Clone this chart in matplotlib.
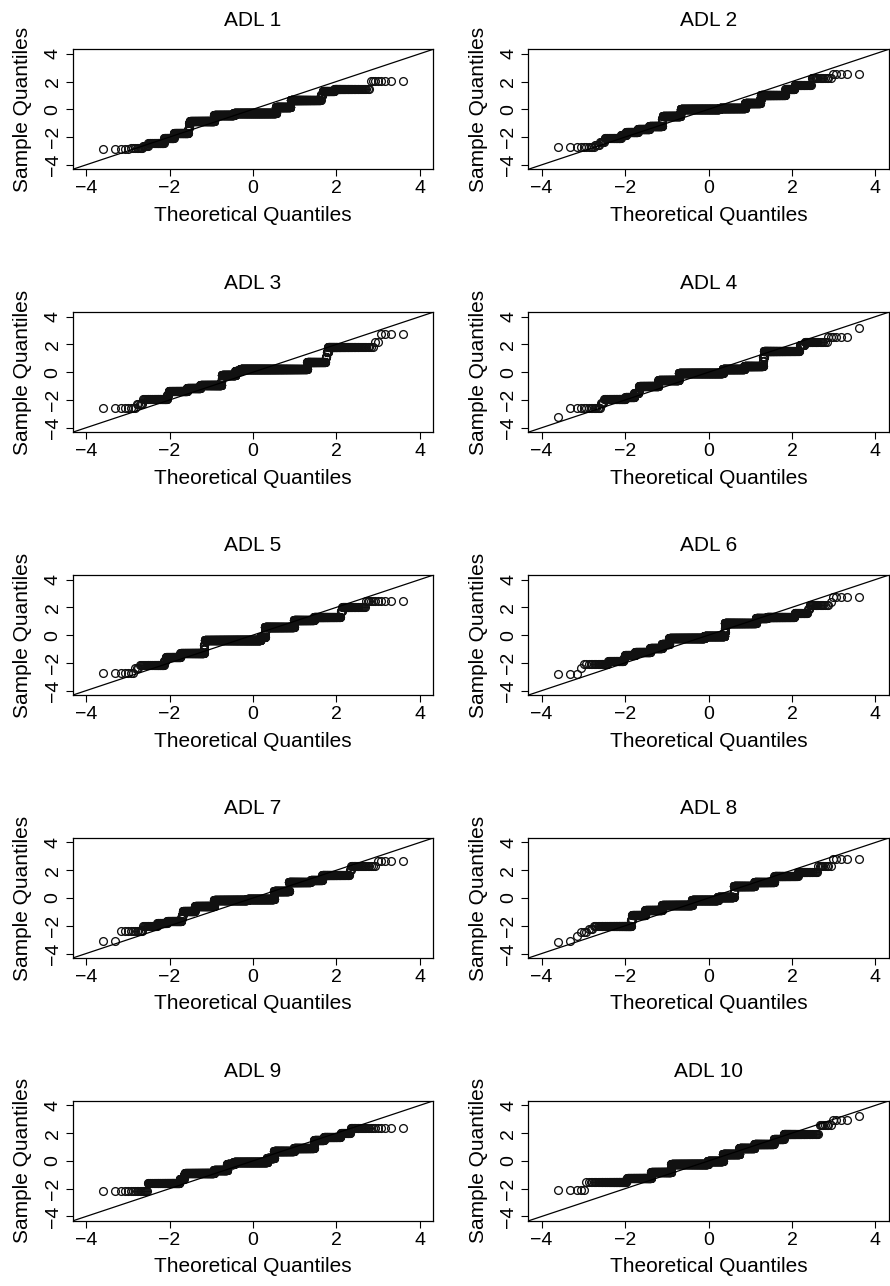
import statistics
import numpy as np
import matplotlib
matplotlib.use("Agg")
import matplotlib.pyplot as plt

plt.rcParams['font.family'] = ['Liberation Sans', 'DejaVu Sans']

titles = ["ADL 1", "ADL 2", "ADL 3", "ADL 4", "ADL 5",
          "ADL 6", "ADL 7", "ADL 8", "ADL 9", "ADL 10"]

# Sample values (distinct levels) and how many observations take each value
adl1_levels = [-2.88, -2.78, -2.62, -2.4, -2.1, -1.73, -1.5, -1.25, -1.0, -0.82, -0.41,
               -0.24, 0.16, 0.67, 1.05, 1.3, 1.47, 2.07]
adl1_counts = [5, 8, 6, 33, 40, 98, 6, 6, 6, 356, 469, 1235, 343, 421, 15, 71, 74, 8]

adl2_levels = [-2.74, -2.55, -2.35, -2.1, -1.85, -1.6, -1.45, -1.2, -0.9, -0.7, -0.48,
               -0.25, 0.0, 0.07, 0.43, 0.75, 1.03, 1.44, 1.75, 2.24, 2.55]
adl2_counts = [10, 4, 6, 37, 19, 67, 106, 171, 6, 6, 363, 8, 1125, 666, 262, 6, 233,
               42, 41, 17, 5]

adl3_levels = [-2.6, -2.3, -1.96, -1.65, -1.34, -1.17, -0.93, -0.7, -0.45, -0.22, 0.12,
               0.26, 0.72, 1.1, 1.45, 1.82, 2.18, 2.75]
adl3_counts = [8, 5, 50, 6, 114, 149, 384, 6, 6, 351, 144, 1667, 179, 6, 10, 109, 2, 4]

adl4_levels = [-3.26, -2.56, -2.2, -1.9, -1.77, -1.53, -1.25, -0.98, -0.57, -0.3, -0.05,
               0.26, 0.43, 0.8, 1.1, 1.53, 1.94, 2.18, 2.54, 3.2]
adl4_counts = [1, 14, 4, 54, 47, 29, 5, 214, 387, 6, 1265, 550, 314, 5, 8, 250, 13, 27,
               6, 1]

adl5_levels = [-2.71, -2.4, -2.16, -1.85, -1.56, -1.32, -1.0, -0.7, -0.36, -0.12, 0.25,
               0.6, 1.08, 1.32, 1.7, 2.04, 2.47]
adl5_counts = [7, 3, 42, 6, 73, 250, 6, 6, 1436, 124, 6, 718, 292, 174, 5, 41, 11]

adl6_levels = [-2.83, -2.35, -2.09, -1.87, -1.65, -1.44, -1.25, -0.96, -0.67, -0.45,
               -0.19, -0.05, 0.2, 0.5, 0.84, 1.2, 1.32, 1.56, 1.9, 2.16, 2.4, 2.71]
adl6_counts = [3, 1, 21, 41, 4, 55, 134, 161, 128, 6, 919, 601, 5, 5, 709, 148, 196,
               35, 3, 19, 1, 5]

adl7_levels = [-3.07, -2.35, -2.0, -1.8, -1.68, -1.45, -1.2, -0.96, -0.8, -0.6, -0.4,
               -0.17, -0.07, 0.2, 0.48, 1.13, 1.27, 1.68, 2.0, 2.28, 2.64]
adl7_counts = [2, 11, 21, 29, 74, 5, 5, 112, 5, 292, 6, 860, 791, 6, 357, 356, 113,
               122, 3, 25, 5]

adl8_levels = [-3.17, -3.07, -2.76, -2.47, -2.2, -1.99, -1.6, -1.2, -0.84, -0.48, -0.12,
               0.07, 0.45, 0.89, 1.13, 1.56, 1.87, 2.28, 2.8]
adl8_counts = [1, 1, 1, 3, 3, 92, 5, 100, 214, 683, 776, 443, 6, 438, 251, 131, 38, 9, 5]

adl9_levels = [-2.2, -1.56, -1.32, -1.05, -0.84, -0.67, -0.35, -0.19, -0.05, 0.24, 0.5,
               0.72, 0.96, 1.25, 1.48, 1.72, 2.03, 2.4]
adl9_counts = [18, 107, 30, 8, 393, 300, 6, 171, 993, 187, 5, 459, 292, 4, 84, 86, 26, 31]

adl10_levels = [-2.1, -1.5, -1.35, -1.2, -0.77, -0.5, -0.24, 0.0, 0.3, 0.53, 0.96, 1.2,
                1.56, 1.92, 2.59, 2.92, 3.23]
adl10_counts = [5, 71, 5, 187, 321, 6, 979, 452, 5, 434, 301, 244, 75, 102, 8, 4, 1]

panels = [(adl1_levels, adl1_counts), (adl2_levels, adl2_counts),
          (adl3_levels, adl3_counts), (adl4_levels, adl4_counts),
          (adl5_levels, adl5_counts), (adl6_levels, adl6_counts),
          (adl7_levels, adl7_counts), (adl8_levels, adl8_counts),
          (adl9_levels, adl9_counts), (adl10_levels, adl10_counts)]

nd = statistics.NormalDist()


def qqnorm(levels, counts):
    y = np.sort(np.repeat(levels, counts))
    n = len(y)
    a = 0.5 if n > 10 else 3.0 / 8.0
    p = (np.arange(1, n + 1) - a) / (n + 1 - 2 * a)
    x = np.array([nd.inv_cdf(pi) for pi in p])
    return x, y


W, H = 890, 1286
fig = plt.figure(figsize=(W / 100, H / 100), dpi=100)

col_left = [72.7, 528.3]
ax_w = 360.5
ax_h = 120.0
row_top = [49.3, 312.2, 575.1, 838.0, 1100.9]

lim = 4.32
for i, (title, (lv, ct)) in enumerate(zip(titles, panels)):
    r, c = divmod(i, 2)
    left = col_left[c] / W
    bottom = 1 - (row_top[r] + ax_h) / H
    ax = fig.add_axes([left, bottom, ax_w / W, ax_h / H])
    x, y = qqnorm(lv, ct)
    ax.plot(x, y, linestyle='none', marker='o', markersize=5.6,
            markerfacecolor='none', markeredgecolor='#111111',
            markeredgewidth=0.95)
    ax.axline((0, 0), slope=1, color='black', linewidth=0.9)
    ax.set_xlim(-lim, lim)
    ax.set_ylim(-lim, lim)
    ax.set_xticks([-4, -2, 0, 2, 4])
    ax.set_yticks([-4, -2, 0, 2, 4])
    ax.tick_params(direction='out', length=5, width=0.8, labelsize=14, pad=3,
                   color='black')
    ax.tick_params(axis='y', labelrotation=90)
    for lab in ax.get_yticklabels():
        lab.set_va('center')
    for s in ax.spines.values():
        s.set_linewidth(0.9)
    ax.set_title(title, fontsize=15, pad=17)
    ax.set_xlabel("Theoretical Quantiles", fontsize=15, labelpad=6)
    ax.set_ylabel("Sample Quantiles", fontsize=15, labelpad=9)

fig.savefig("out.png", dpi=100)
